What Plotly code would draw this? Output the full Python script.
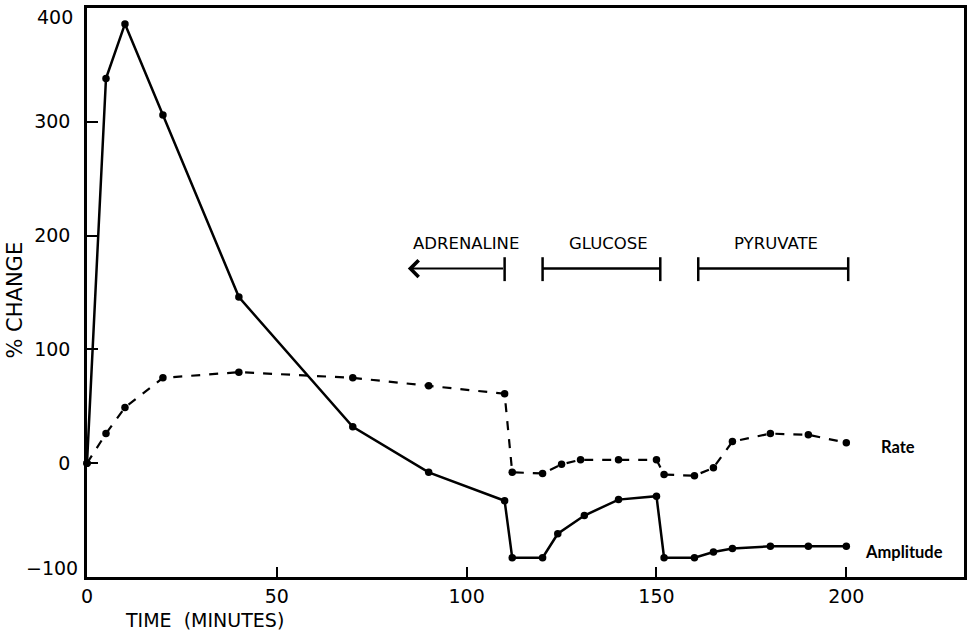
import plotly.graph_objects as go

# Data
amp_t = [0, 5, 10, 20, 40, 70, 90, 110, 112, 120, 124, 131, 140, 150, 152, 160, 165, 170, 180, 190, 200]
amp_v = [0, 338, 386, 306, 146, 32, -8, -33, -83, -83, -62, -46, -32, -29, -83, -83, -78, -75, -73, -73, -73]

rate_t = [0, 5, 10, 20, 40, 70, 90, 110, 112, 120, 125, 130, 140, 150, 152, 160, 165, 170, 180, 190, 200]
rate_v = [0, 26, 49, 75, 80, 75, 68, 61, -8, -9, -1, 3, 3, 3, -10, -11, -4, 19, 26, 25, 18]

x_ticks = [0, 50, 100, 150, 200]
y_ticks = [-100, 0, 100, 200, 300, 400]
y_tick_text = ["", "0", "100", "200", "300", ""]
# end labels drawn slightly inside the axis ends, as in the original
y_end_labels = ["\u2212100", "400"]

# Treatment periods (start, end) in minutes
treat_names = ["ADRENALINE", "GLUCOSE", "PYRUVATE"]
treat_start = [84.5, 120, 161]
treat_end = [110, 151, 200.5]
treat_label_x = [85.3, 126.3, 170]
bar_level = 171

FONT = "DejaVu Sans"

fig = go.Figure()
fig.add_trace(go.Scatter(x=amp_t, y=amp_v, mode="lines+markers",
                         line=dict(color="black", width=2.5),
                         marker=dict(color="black", size=7.5),
                         showlegend=False, cliponaxis=False))
fig.add_trace(go.Scatter(x=rate_t, y=rate_v, mode="lines+markers",
                         line=dict(color="black", width=2.2, dash="dash"),
                         marker=dict(color="black", size=7.5),
                         showlegend=False, cliponaxis=False))

# Adrenaline: arrow to the left with a tick at the right end
fig.add_annotation(x=treat_start[0], y=bar_level, ax=treat_end[0], ay=bar_level,
                   axref="x", ayref="y", xref="x", yref="y", showarrow=True,
                   arrowhead=4, arrowsize=1.6, arrowwidth=2, arrowcolor="black", text="")
fig.add_shape(type="line", x0=treat_end[0], x1=treat_end[0], y0=bar_level - 11, y1=bar_level + 10,
              line=dict(color="black", width=2.5))
# Glucose and pyruvate bars
for i in (1, 2):
    fig.add_shape(type="line", x0=treat_start[i], x1=treat_end[i], y0=bar_level, y1=bar_level,
                  line=dict(color="black", width=2.5))
    for xx in (treat_start[i], treat_end[i]):
        fig.add_shape(type="line", x0=xx, x1=xx, y0=bar_level - 11, y1=bar_level + 10,
                      line=dict(color="black", width=2.5))
for i, name in enumerate(treat_names):
    fig.add_annotation(x=treat_label_x[i], y=193, xref="x", yref="y", text=name, showarrow=False,
                       xanchor="left", yanchor="middle",
                       font=dict(family=FONT, size=16.5, color="black"))

# Series labels
fig.add_annotation(x=208.5, y=rate_v[-1] - 4, xref="x", yref="y", text="Rate", showarrow=False,
                   xanchor="left", font=dict(family="Lato", size=16.5, color="black", weight="bold"))
fig.add_annotation(x=204.3, y=amp_v[-1] - 5, xref="x", yref="y", text="Amplitude", showarrow=False,
                   xanchor="left", font=dict(family="Lato", size=16.5, color="black", weight="bold"))

# End tick labels of the y axis
fig.add_annotation(x=-0.008, y=0.016, xref="paper", yref="paper", text=y_end_labels[0],
                   showarrow=False, xanchor="right", yanchor="middle",
                   font=dict(family=FONT, size=19, color="black"))
fig.add_annotation(x=-0.014, y=0.984, xref="paper", yref="paper", text=y_end_labels[1],
                   showarrow=False, xanchor="right", yanchor="middle",
                   font=dict(family=FONT, size=19, color="black"))

# Axis titles
fig.add_annotation(x=31, y=-0.076, xref="x", yref="paper", text="TIME  (MINUTES)", showarrow=False,
                   xanchor="center", yanchor="middle", font=dict(family=FONT, size=19, color="black"))
fig.add_annotation(x=-0.082, y=143, xref="paper", yref="y", text="% CHANGE", showarrow=False,
                   textangle=-90, xanchor="center", yanchor="middle",
                   font=dict(family=FONT, size=21, color="black"))

fig.update_xaxes(range=[0, 231], tickvals=x_ticks, ticks="inside", ticklen=10, tickwidth=2,
                 tickcolor="black", showline=True, linewidth=2.5, linecolor="black", mirror=True,
                 showgrid=False, zeroline=False, ticklabelstandoff=0, automargin=False,
                 tickfont=dict(family=FONT, size=19, color="black"))
fig.update_yaxes(range=[-100, 400], tickvals=y_ticks, ticktext=y_tick_text, ticks="inside",
                 ticklen=11, tickwidth=2, tickcolor="black", showline=True, linewidth=2.5,
                 linecolor="black", mirror=True, showgrid=False, zeroline=False, automargin=False,
                 ticklabelstandoff=10, ticklabeloverflow="allow",
                 tickfont=dict(family=FONT, size=19, color="black"))

fig.update_layout(width=967, height=632,
                  margin=dict(l=87, r=3, t=8, b=55, autoexpand=False),
                  plot_bgcolor="white", paper_bgcolor="white")

# remove the default page margin so the figure fills the window exactly
fig.write_html("out.html", config={"displayModeBar": False},
               post_script="document.body.style.margin='0px';document.body.style.overflow='hidden';")
